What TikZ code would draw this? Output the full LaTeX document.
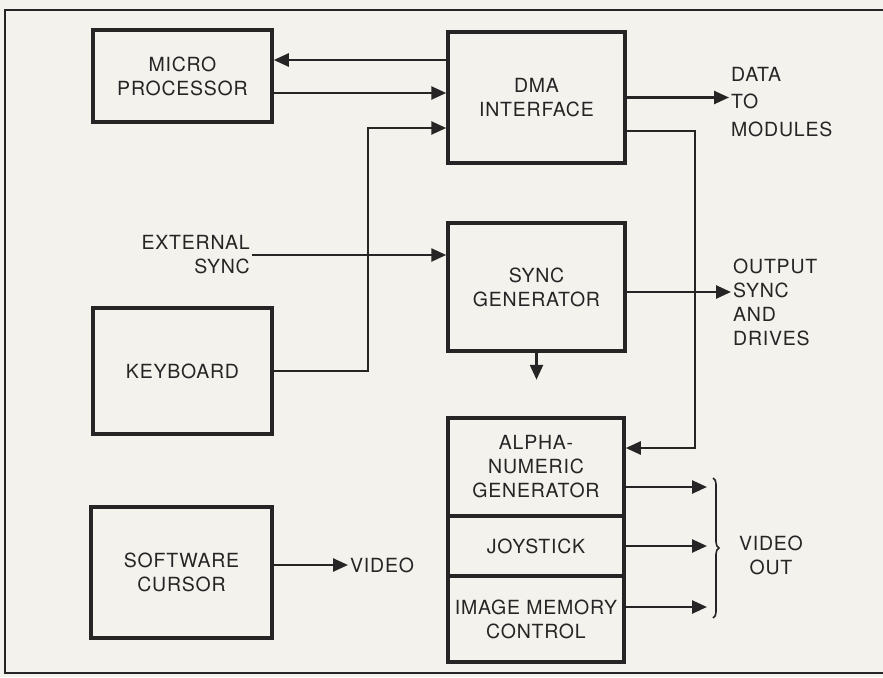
\documentclass[tikz,border=0pt]{standalone}
\usepackage{fontspec}
\setmainfont{TeX Gyre Heros}[LetterSpace=4]
\usetikzlibrary{
  arrows.meta,
  positioning,
  decorations.pathreplacing
}
\definecolor{papercolor}{RGB}{244, 242, 237}
\definecolor{inkcolor}{RGB}{38, 36, 36}
\tikzset{
blocktext/.style={
  align=center,
  font=\fontsize{19.5}{24}\selectfont,
  text=inkcolor
},
block/.style={
  draw=inkcolor,
  line width=3.5pt,
  inner sep=0pt,
  blocktext
},
outlabel/.style={
  blocktext,
  inner sep=2pt
},
arrow/.style={
  -{Triangle[length=15pt,width=13pt]},
  line width=2.5pt,
  draw=inkcolor
},
frame/.style={
  draw=inkcolor,
  line width=2pt
}
}

\begin{document}
\begin{tikzpicture}[x=1pt, y=-1pt]
  % Paper and frame
  \path[use as bounding box, fill=papercolor] (0,0) rectangle (883,677);
  \draw[frame] (883,10) -- (5,10) -- (5,673) -- (883,673);

  % Blocks
  \node[block, minimum width=179pt, minimum height=92pt] (mp) at (182.5,76) {MICRO\\PROCESSOR};
  \node[block, minimum width=177pt, minimum height=131pt] (dma) at (536.5,97.5) {DMA\\INTERFACE};
  \node[block, minimum width=177pt, minimum height=128pt] (sync) at (536.5,287) {SYNC\\GENERATOR};
  \node[block, minimum width=179pt, minimum height=126pt] (kbd) at (182.5,371) {KEYBOARD};
  \node[block, minimum width=181pt, minimum height=131pt] (sw) at (181.5,572.5) {SOFTWARE\\CURSOR};

  % Video stack
  \node[block, minimum width=176pt, minimum height=98pt] (alpha) at (536,467) {ALPHA-\\NUMERIC\\GENERATOR};
  \node[block, minimum width=176pt, minimum height=60pt, below=-3.5pt of alpha] (joy) {JOYSTICK};
  \node[block, minimum width=176pt, minimum height=86pt, below=-3.5pt of joy] (imc) {IMAGE MEMORY\\CONTROL};

  % Outside labels
  \node[outlabel, align=right, anchor=east] (ext) at (252,255) {EXTERNAL\\SYNC};
  \node[outlabel, align=left, anchor=west, font=\fontsize{19.5}{27.5}\selectfont] (data) at (729,102) {DATA\\TO\\MODULES};
  \node[outlabel, align=left, anchor=west] (drives) at (731,302) {OUTPUT\\SYNC\\AND\\DRIVES};
  \node[outlabel, anchor=west] (vid) at (348,565) {VIDEO};
  \node[outlabel] (vout) at (771,555) {VIDEO\\OUT};
  \coordinate[below=27pt of sync.south] (syncdn);
  \coordinate (vo) at (707,546);

  % Arrows
  \draw[arrow] ([yshift=16pt]mp.east -| dma.west) -- ([yshift=16pt]mp.east);
  \draw[arrow] ([yshift=-17pt]mp.east) -- ([yshift=-17pt]mp.east -| dma.west);
  \draw[arrow] (kbd.east) -- ++(94pt,0) |- ([yshift=-30.5pt]dma.west);
  \draw[arrow] (ext.east) -- (ext.east -| sync.west);
  \draw[arrow] (dma.east) -- (dma.east -| data.west);
  \draw[arrow] ([yshift=-33.5pt]dma.east) -- ++(68pt,0) |- ([yshift=19pt]alpha.east);
  \draw[arrow] ([yshift=-5pt]sync.east) -- ([yshift=-5pt]sync.east -| drives.west);
  \draw[arrow] (sync.south) -- (syncdn);
  \draw[arrow] ([yshift=-20pt]alpha.east) -- ([yshift=-20pt]alpha.east -| vo);
  \draw[arrow] (joy.east) -- (joy.east -| vo);
  \draw[arrow] ([yshift=12pt]imc.east) -- ([yshift=12pt]imc.east -| vo);
  \draw[arrow] ([yshift=7.5pt]sw.east) -- ([yshift=7.5pt]sw.east -| vid.west);

  % Video out brace
  \draw[line width=1.6pt, inkcolor, decorate, decoration={brace, amplitude=6pt}]
    (713,478) -- (713,618);
\end{tikzpicture}
\end{document}
